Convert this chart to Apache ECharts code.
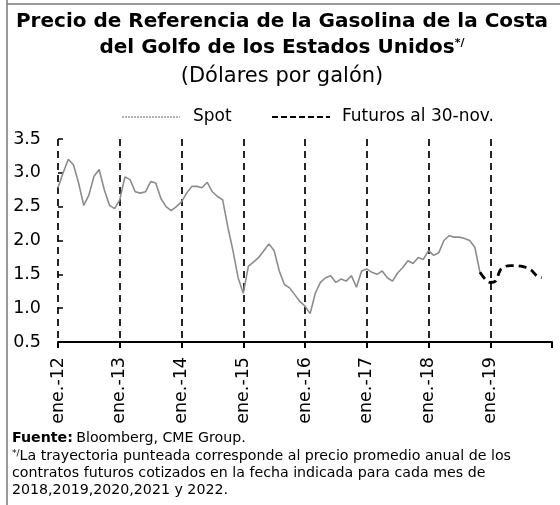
<!DOCTYPE html>
<html><head><meta charset="utf-8">
<script src="https://cdn.jsdelivr.net/npm/echarts@6/dist/echarts.min.js"></script>
<style>html,body{margin:0;padding:0;background:#fff}#c{width:560px;height:505px}</style>
</head><body><div id="c"></div>
<script>
// ---- data ----
const monthNames = ['ene.','feb.','mar.','abr.','may.','jun.','jul.','ago.','sep.','oct.','nov.','dic.'];
const yearLabels = ['12','13','14','15','16','17','18','19','20'];
const yTicks = [0.5, 1.0, 1.5, 2.0, 2.5, 3.0, 3.5];
// Spot, monthly from ene.-12 to dic.-18
const spot2012 = [2.78, 3.00, 3.20, 3.12, 2.85, 2.52, 2.67, 2.95, 3.05, 2.75, 2.52, 2.47];
const spot2013 = [2.60, 2.94, 2.90, 2.72, 2.70, 2.72, 2.87, 2.85, 2.62, 2.50, 2.44, 2.50];
const spot2014 = [2.57, 2.70, 2.80, 2.80, 2.78, 2.86, 2.72, 2.65, 2.60, 2.20, 1.85, 1.45];
const spot2015 = [1.22, 1.62, 1.68, 1.75, 1.85, 1.95, 1.85, 1.55, 1.35, 1.30, 1.20, 1.10];
const spot2016 = [1.03, 0.92, 1.22, 1.38, 1.45, 1.48, 1.38, 1.43, 1.40, 1.48, 1.31, 1.55];
const spot2017 = [1.58, 1.53, 1.50, 1.55, 1.45, 1.40, 1.52, 1.60, 1.70, 1.66, 1.75, 1.72];
const spot2018 = [1.85, 1.78, 1.82, 2.00, 2.07, 2.05, 2.05, 2.03, 2.00, 1.90, 1.53, 1.43];
// Futuros al 30-nov., monthly from nov.-18 to nov.-19
const futuresStart = 'nov.-18';
const futures = [1.53, 1.43, 1.38, 1.40, 1.57, 1.62, 1.63, 1.63, 1.62, 1.60, 1.56, 1.48, 1.45];
const seriesNames = ['Spot', 'Futuros al 30-nov.'];

// ---- build ----
const categories = [];
yearLabels.forEach((y, yi) => {
  monthNames.forEach((m, mi) => {
    if (yi < yearLabels.length - 1 || mi === 0) categories.push(m + '-' + y);
  });
});
const spot = [].concat(spot2012, spot2013, spot2014, spot2015, spot2016, spot2017, spot2018);
const spotData = spot.map((v, i) => [categories[i], v]);
const fs = categories.indexOf(futuresStart);
const futData = futures.map((v, i) => [categories[fs + i], v]);
const lastIdx = categories.length - 1;

const FONT = 'DejaVu Sans';
const F = (w, s) => (w ? w + ' ' : '') + s + 'px "' + FONT + '"';
const chart = echarts.init(document.getElementById('c'), null, {renderer: 'canvas'});
chart.setOption({
  animation: false,
  textStyle: {fontFamily: FONT, color: '#000'},
  grid: {left: 58, right: 8, top: 139, bottom: 163, containLabel: false},
  xAxis: {
    type: 'category', data: categories, boundaryGap: false,
    axisLine: {lineStyle: {color: '#000', width: 2}},
    axisTick: {show: true, length: 6, lineStyle: {color: '#000', width: 2},
      interval: (i) => i % 12 === 0},
    axisLabel: {interval: (i) => i % 12 === 0 && i !== lastIdx, rotate: 90,
      fontSize: 17.5, color: '#000', fontFamily: FONT, margin: 15},
    splitLine: {show: true, interval: (i) => i % 12 === 0 && i !== lastIdx,
      lineStyle: {color: '#000', width: 1.7, type: [7, 5]}}
  },
  yAxis: {
    type: 'value', min: yTicks[0], max: yTicks[yTicks.length - 1], interval: 0.5,
    axisLine: {show: false},
    axisTick: {show: true, inside: true, length: 5, lineStyle: {color: '#000', width: 1.5}},
    axisLabel: {formatter: (v) => v.toFixed(1), fontSize: 17.5, color: '#000', fontFamily: FONT, margin: 17},
    splitLine: {show: false}
  },
  series: [
    {name: seriesNames[0], type: 'line', data: spotData, symbol: 'none', z: 3,
      lineStyle: {color: '#8c8c8c', width: 1.6}},
    {name: seriesNames[1], type: 'line', data: futData, symbol: 'none', smooth: 0.3, z: 4,
      lineStyle: {color: '#000', width: 2.8, type: [8, 5]}}
  ],
  graphic: [
    {type: 'line', shape: {x1: 7, y1: 0, x2: 7, y2: 505}, style: {stroke: '#777', lineWidth: 1.5}},
    {type: 'line', shape: {x1: 7, y1: 4, x2: 560, y2: 4}, style: {stroke: '#777', lineWidth: 1.5}},
    // legend
    {type: 'line', shape: {x1: 122, y1: 117, x2: 180, y2: 117}, style: {stroke: '#9a9a9a', lineWidth: 1.5, lineDash: [2, 1]}},
    {type: 'text', x: 193, y: 117, style: {text: seriesNames[0], font: F('', 17), fill: '#000', textVerticalAlign: 'middle'}},
    {type: 'line', shape: {x1: 272, y1: 117, x2: 330, y2: 117}, style: {stroke: '#000', lineWidth: 2, lineDash: [6, 3]}},
    {type: 'text', x: 342, y: 117, style: {text: seriesNames[1], font: F('', 17), fill: '#000', textVerticalAlign: 'middle'}},
    // titles
    {type: 'text', x: 282, y: 12, style: {text: 'Precio de Referencia de la Gasolina de la Costa',
      font: F('bold', 20), fill: '#000', textAlign: 'center'}},
    {type: 'text', x: 282, y: 38, style: {text: '{b|del Golfo de los Estados Unidos}{s|*/}',
      textAlign: 'center', rich: {
        b: {font: F('bold', 20), fill: '#000'},
        s: {font: F('bold', 11), fill: '#000', padding: [0, 0, 9, 0]}}}},
    {type: 'text', x: 282, y: 66, style: {text: '(Dólares por galón)',
      font: F('', 21), fill: '#000', textAlign: 'center'}},
    // footnotes
    {type: 'text', x: 12, y: 431, style: {text: '{b|Fuente:} {n|Bloomberg, CME Group.}',
      rich: {b: {font: F('bold', 14.2), fill: '#000'}, n: {font: F('', 14.2), fill: '#000'}}}},
    {type: 'text', x: 12, y: 449, style: {text: '{s|*/}{n|La trayectoria punteada corresponde al precio promedio anual de los}',
      rich: {s: {font: F('', 9), fill: '#000', padding: [0, 0, 6, 0]}, n: {font: F('', 14.2), fill: '#000'}}}},
    {type: 'text', x: 12, y: 466, style: {text: 'contratos futuros cotizados en la fecha indicada para cada mes de',
      font: F('', 14.2), fill: '#000'}},
    {type: 'text', x: 12, y: 483, style: {text: '2018,2019,2020,2021 y 2022.',
      font: F('', 14.2), fill: '#000'}}
  ]
});
</script></body></html>
